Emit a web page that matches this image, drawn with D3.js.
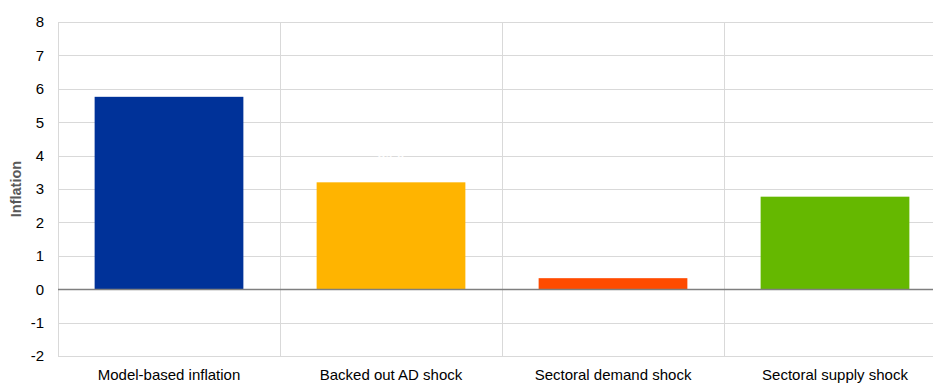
<!DOCTYPE html>
<html>
<head>
<meta charset="utf-8">
<script src="https://cdn.jsdelivr.net/npm/d3@7"></script>
<style>
  html, body { margin: 0; padding: 0; background: #fff; overflow: hidden; }
  svg { display: block; font-family: "Liberation Sans", Arial, sans-serif; }
</style>
</head>
<body>
<svg id="chart" width="933" height="383"></svg>
<script>
const categories = ["Model-based inflation", "Backed out AD shock", "Sectoral demand shock", "Sectoral supply shock"];
const values = [5.76, 3.2, 0.33, 2.77];
const valueLabels = ["5.76", "3.20", "0.33", "2.77"];
const colors = ["#003299", "#FFB400", "#FF4B00", "#65B800"];
const yTicks = [-2, -1, 0, 1, 2, 3, 4, 5, 6, 7, 8];
const yTitle = "Inflation";

(function () {
const svg = d3.select("#chart");
const pLeft = 58, pRight = 946, pTop = 22, pBottom = 356;

const x = d3.scaleBand().domain(categories).range([pLeft, pRight]).paddingInner(0).paddingOuter(0);
const y = d3.scaleLinear().domain([-2, 8]).range([pBottom, pTop]);

// horizontal gridlines
svg.append("g").selectAll("line").data(yTicks).join("line")
  .attr("x1", pLeft).attr("x2", pRight)
  .attr("y1", d => Math.round(y(d)) + 0.5).attr("y2", d => Math.round(y(d)) + 0.5)
  .attr("stroke", "#d9d9d9").attr("stroke-width", 1);

// vertical gridlines at band boundaries
const bounds = categories.map(c => x(c)).concat([pRight]);
svg.append("g").selectAll("line").data(bounds).join("line")
  .attr("x1", d => Math.round(d) + 0.5).attr("x2", d => Math.round(d) + 0.5)
  .attr("y1", pTop).attr("y2", pBottom)
  .attr("stroke", "#d9d9d9").attr("stroke-width", 1);

// bars
const bw = x.bandwidth() * 0.67;
svg.append("g").selectAll("rect").data(values).join("rect")
  .attr("x", (d, i) => x(categories[i]) + (x.bandwidth() - bw) / 2)
  .attr("width", bw)
  .attr("y", d => y(Math.max(0, d)))
  .attr("height", d => Math.abs(y(d) - y(0)))
  .attr("fill", (d, i) => colors[i]);

// zero line
svg.append("line")
  .attr("x1", pLeft).attr("x2", pRight)
  .attr("y1", Math.round(y(0)) + 0.5).attr("y2", Math.round(y(0)) + 0.5)
  .attr("stroke", "#7f7f7f").attr("stroke-width", 1.3);

// white value labels (as in reference, barely visible)
svg.append("g").selectAll("text").data(values).join("text")
  .attr("x", (d, i) => x(categories[i]) + x.bandwidth() / 2)
  .attr("y", d => y(d) - 24)
  .attr("text-anchor", "middle")
  .attr("font-size", 14)
  .attr("fill", "#ffffff")
  .text((d, i) => valueLabels[i]);

// y axis labels
const yAxis = d3.axisLeft(y).tickValues(yTicks).tickSize(0).tickPadding(14).tickFormat(d => String(d));
const gy = svg.append("g").attr("transform", `translate(${pLeft},0)`).call(yAxis);
gy.select(".domain").remove();
gy.selectAll("text").attr("font-size", 15).attr("fill", "#000").attr("font-family", "Liberation Sans, Arial, sans-serif");

// x axis labels
const xAxis = d3.axisBottom(x).tickSize(0).tickPadding(13);
const gx = svg.append("g").attr("transform", `translate(0,${pBottom})`).call(xAxis);
gx.select(".domain").remove();
gx.selectAll("text").attr("font-size", 15).attr("fill", "#000").attr("font-family", "Liberation Sans, Arial, sans-serif");

// y title
svg.append("text")
  .attr("transform", `translate(21,${(pTop + pBottom) / 2}) rotate(-90)`)
  .attr("text-anchor", "middle")
  .attr("font-size", 14.5)
  .attr("font-weight", "bold")
  .attr("fill", "#595959")
  .text(yTitle);
})();
</script>
</body>
</html>
